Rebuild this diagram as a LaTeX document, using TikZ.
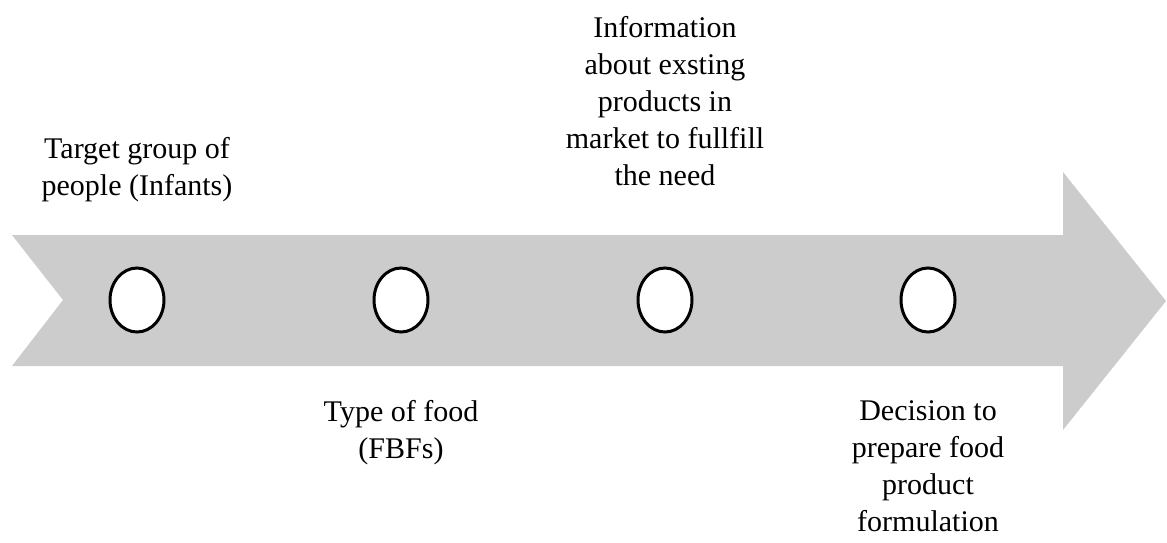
\documentclass[tikz,border=0pt]{standalone}
\usepackage{fontspec}
\setmainfont{Liberation Serif}
\usetikzlibrary{shapes.geometric, positioning}

\begin{document}
\begin{tikzpicture}[x=0.5pt, y=-0.5pt]
                    \tikzstyle{stage} = [
	shape=ellipse,
	draw=black, %border of the marker
	fill=white, %inside of the marker
	line width=1.5pt,
	minimum width=27pt, %width of the marker
	minimum height=32pt,
	inner sep=0pt
];
                    \tikzstyle{label} = [
	align=center,
	anchor=north,
	inner sep=0pt,
	font=\fontsize{15}{18.5}\selectfont
];

\useasboundingbox (0,0) rectangle (1167,542);

%timeline band
\fill[color=black!20]
	(12,235) -- (1063,235) -- (1063,172) -- (1166,301)
	-- (1063,430) -- (1063,366) -- (12,366) -- (63,300) -- cycle;

%markers
\node[stage](Tg) at (137,300) {};
\node[stage](Fd) at (401,300) {};
\node[stage](In) at (665,300) {};
\node[stage](Dc) at (928,300) {};

%texts above the band
\node[label](TgText) at (137,137) {Target group of\\people (Infants)};
\node[label](InText) at (665,16) {Information\\about exsting\\products in\\market to fullfill\\the need};

%texts below the band
\node[label](FdText) at (401,400) {Type of food\\(FBFs)};
\node[label](DcText) at (928,400) {Decision to\\prepare food\\product\\formulation};

                \end{tikzpicture}
\end{document}
